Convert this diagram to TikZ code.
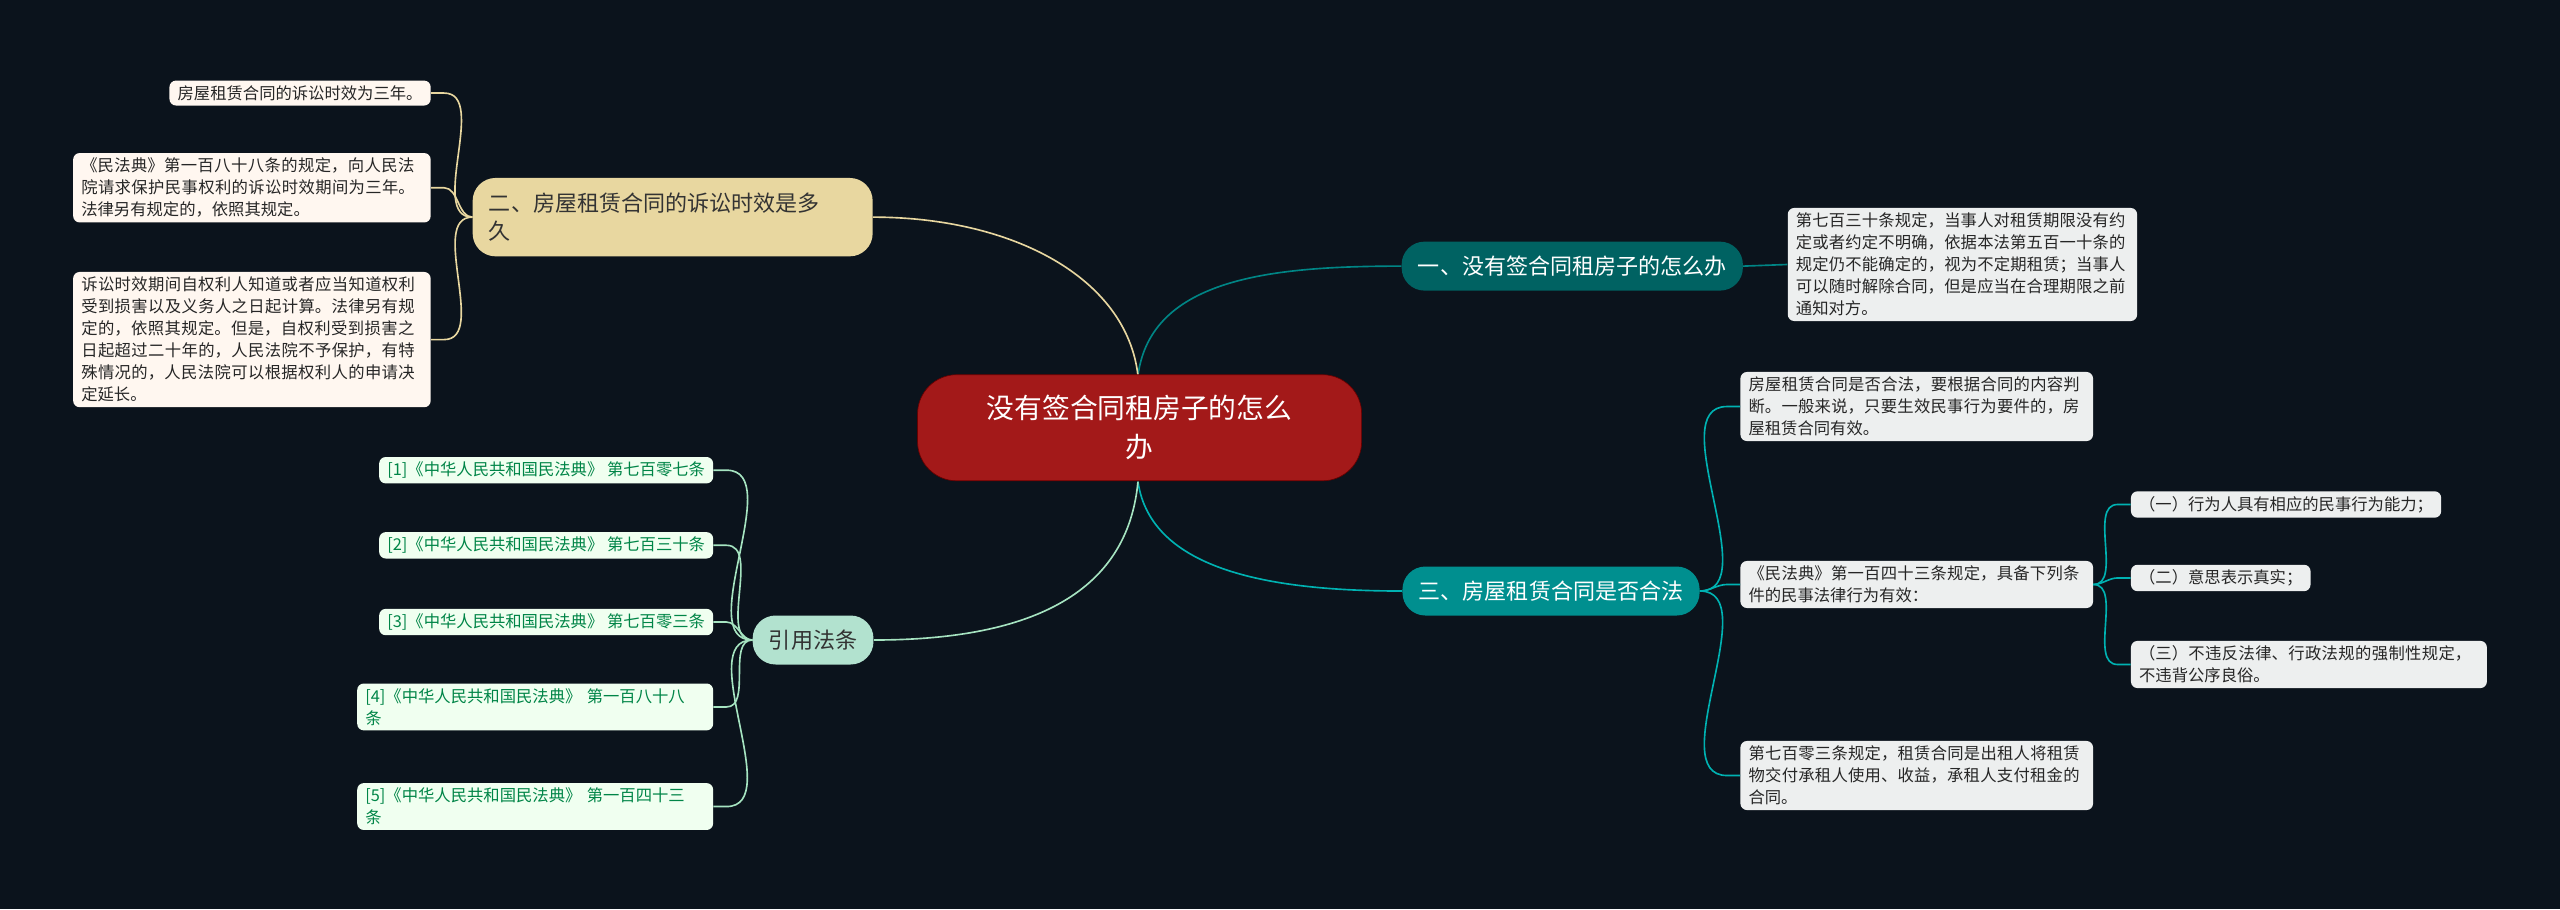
\documentclass[tikz,border=0pt]{standalone}
\usepackage{fontspec}
\setmainfont{Noto Sans CJK SC}
\XeTeXlinebreaklocale "zh"
\XeTeXlinebreakskip=0pt plus 1pt
\begin{document}
\begin{tikzpicture}[x=1pt,y=-1pt,
  base/.style={rounded corners=4pt,inner xsep=5pt,inner ysep=3pt,align=left,font=\fontsize{10}{13.5}\selectfont},
  leafB/.style={base,fill=cyan!8!gray!15!white,text=black!85},
  leafY/.style={base,fill=orange!6!white,text=black!85},
  leafG/.style={base,fill=green!6!white,text=teal!70!green!80!black},
  br/.style={rounded corners=14pt,inner xsep=10pt,inner ysep=5pt,font=\fontsize{13.5}{17}\selectfont,align=left},
  c1/.style={draw=teal!70!cyan!80!black,line width=1pt},
  c3/.style={draw=teal!60!cyan,line width=1pt},
  c2/.style={draw=bei,line width=1pt},
  c4/.style={draw=green!40!teal!35!white,line width=1pt}]
\definecolor{bg}{HTML}{0B131C}
\definecolor{bei}{HTML}{E8D7A0}
\fill[bg] (0,0) rectangle (1568,557);
\useasboundingbox (0,0) rectangle (1568,557);
\coordinate (ct) at (697,230); \coordinate (cb) at (697,295);
\node[br,fill=teal!70!black!95!cyan,text=white,minimum height=30pt] (b1) at (963,163) {一、没有签合同租房子的怎么办};
\node[br,fill=teal!75!cyan!90!black,text=white,minimum height=30pt] (b3) at (950,362) {三、房屋租赁合同是否合法};
\node[br,fill=bei,text=black!80,text width=225pt,minimum height=48pt] (b2) at (412,133) {二、房屋租赁合同的诉讼时效是多\\久};
\node[br,fill=green!25!teal!30!white,text=black!80,minimum height=30pt] (b4) at (498,392) {引用法条};
\draw[c1] (ct) .. controls (705,170) and (780,163) .. (b1.west);
\draw[c3] (cb) .. controls (705,350) and (780,362) .. (b3.west);
\draw[c2] (ct) .. controls (690,170) and (620,133) .. (b2.east);
\draw[c4] (cb) .. controls (690,370) and (620,392) .. (b4.east);
\node[rounded corners=24pt,fill=red!60!black!90!white,draw=red!40!black,text=white,align=center,font=\fontsize{17}{24}\selectfont,minimum width=272pt,minimum height=65pt] (c) at (698,262) {没有签合同租房子的怎么\\办};
\node[leafB,text width=204pt] (l1) at (1202,162) {第七百三十条规定，当事人对租赁期限没有约定或者约定不明确，依据本法第五百一十条的规定仍不能确定的，视为不定期租赁；当事人可以随时解除合同，但是应当在合理期限之前通知对方。};
\draw[c1] (b1.east) -- (l1.west);
\node[leafB,text width=206pt] (l3a) at (1174,249) {房屋租赁合同是否合法，要根据合同的内容判断。一般来说，只要生效民事行为要件的，房屋租赁合同有效。};
\node[leafB,text width=206pt] (l3b) at (1174,358) {《民法典》第一百四十三条规定，具备下列条件的民事法律行为有效：};
\node[leafB,text width=206pt] (l3c) at (1174,475) {第七百零三条规定，租赁合同是出租人将租赁物交付承租人使用、收益，承租人支付租金的合同。};
\foreach \n in {l3a,l3b,l3c} \draw[c3] (b3.east) to[out=0,in=180,looseness=0.9] ([xshift=-8pt]\n.west) -- (\n.west);
\node[leafB,anchor=west] (s1) at (1305,309) {（一）行为人具有相应的民事行为能力；};
\node[leafB,anchor=west] (s2) at (1305,354) {（二）意思表示真实；};
\node[leafB,anchor=west,text width=208pt] (s3) at (1305,407) {（三）不违反法律、行政法规的强制性规定，不违背公序良俗。};
\foreach \n in {s1,s2,s3} \draw[c3] (l3b.east) to[out=0,in=180,looseness=0.9] ([xshift=-8pt]\n.west) -- (\n.west);
\node[leafY,anchor=east] (l2a) at (264,57) {房屋租赁合同的诉讼时效为三年。};
\node[leafY,anchor=east,text width=209pt] (l2b) at (264,115) {《民法典》第一百八十八条的规定，向人民法院请求保护民事权利的诉讼时效期间为三年。法律另有规定的，依照其规定。};
\node[leafY,anchor=east,text width=209pt] (l2c) at (264,208) {诉讼时效期间自权利人知道或者应当知道权利受到损害以及义务人之日起计算。法律另有规定的，依照其规定。但是，自权利受到损害之日起超过二十年的，人民法院不予保护，有特殊情况的，人民法院可以根据权利人的申请决定延长。};
\foreach \n in {l2a,l2b,l2c} \draw[c2] (b2.west) to[out=180,in=0,looseness=0.9] ([xshift=8pt]\n.east) -- (\n.east);
\node[leafG,anchor=east] (r1) at (437,288) {[1]《中华人民共和国民法典》 第七百零七条};
\node[leafG,anchor=east] (r2) at (437,334) {[2]《中华人民共和国民法典》 第七百三十条};
\node[leafG,anchor=east] (r3) at (437,381) {[3]《中华人民共和国民法典》 第七百零三条};
\node[leafG,anchor=east,text width=208pt] (r4) at (437,433) {[4]《中华人民共和国民法典》 第一百八十八\\条};
\node[leafG,anchor=east,text width=208pt] (r5) at (437,494) {[5]《中华人民共和国民法典》 第一百四十三\\条};
\foreach \n in {r1,r2,r3,r4,r5} \draw[c4] (b4.west) to[out=180,in=0,looseness=0.9] ([xshift=8pt]\n.east) -- (\n.east);
\end{tikzpicture}
\end{document}
